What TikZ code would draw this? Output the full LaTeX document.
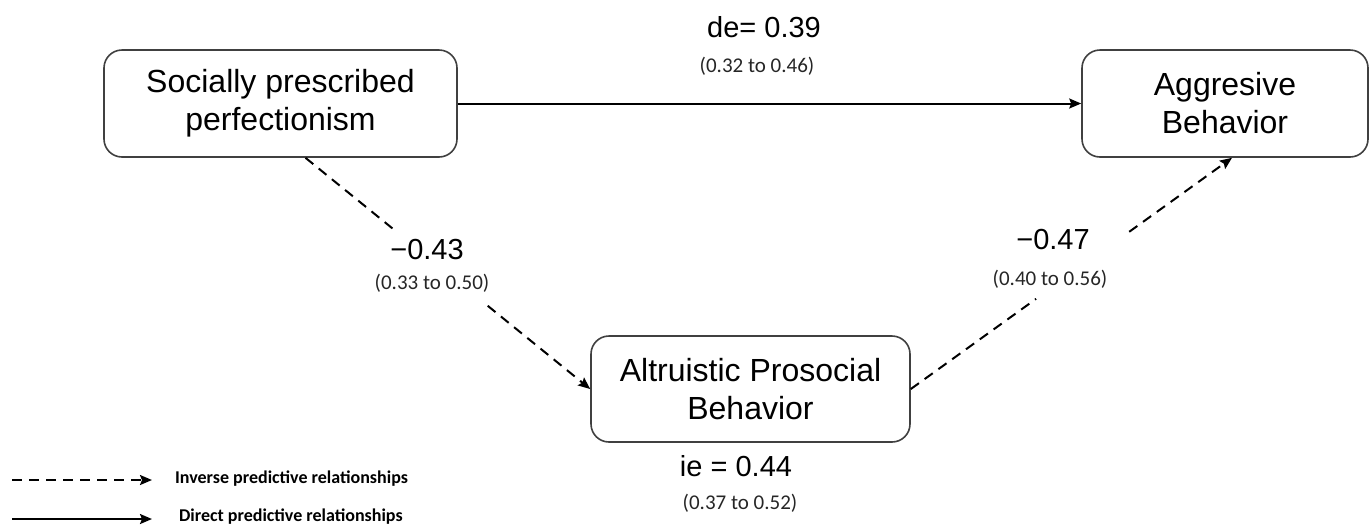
\documentclass[tikz,border=0pt]{standalone}
\usepackage{fontspec}
\setmainfont{Liberation Sans}
\newfontfamily\cifont{Carlito}
\usetikzlibrary{shapes,arrows.meta,calc}
\tikzstyle{block} = [rectangle, draw=black!75, line width=0.8pt, text centered, align=center, rounded corners=9pt,
    font=\fontsize{16}{19}\selectfont]
\tikzstyle{line} = [draw, line width=1pt, -{Stealth[length=6pt,width=5pt,inset=1pt]}]
\tikzstyle{dline} = [line, dash pattern=on 5pt off 3.5pt]
\tikzstyle{coef} = [font=\fontsize{14.5}{17}\selectfont]
\tikzstyle{ci} = [font=\cifont\fontsize{10.5}{12}\selectfont, text=black!85]
\tikzstyle{legtext} = [anchor=west, font=\cifont\bfseries\fontsize{9}{11}\selectfont]

\begin{document}
\begin{tikzpicture}[x=0.5pt,y=-0.5pt]
      \useasboundingbox (0,0) rectangle (1369,527);
      \node [block, minimum width=176.5pt, minimum height=53.5pt] (spp) at (280.5,103.5) {Socially prescribed\\perfectionism};
      \node [block, minimum width=143pt, minimum height=53.5pt] (agg) at (1225,103.5) {Aggresive\\Behavior};
      \node [block, minimum width=159.5pt, minimum height=53pt] (apb) at (750.5,389) {Altruistic Prosocial\\Behavior};

      \node [coef] (de) at (764,27) {de= 0.39};
      \node [ci] (deci) at (757,66) {(0.32 to 0.46)};
      \node [coef] (a) at (427,250) {−0.43};
      \node [ci] (aci) at (432,283) {(0.33 to 0.50)};
      \node [coef] (b) at (1053,240) {−0.47};
      \node [ci] (bci) at (1050,279) {(0.40 to 0.56)};
      \node [coef] (ie) at (736,466) {ie = 0.44};
      \node [ci] (ieci) at (740,503) {(0.37 to 0.52)};

      \coordinate (s1) at ($(spp.south)+(25,0)$);
      \coordinate (e1) at (apb.west);
      \coordinate (s2) at (apb.east);
      \coordinate (e2) at ($(agg.south)+(7,0)$);

      \path [line] (spp) -- (agg);
      \path [dline, -] (s1) -- ($(s1)!0.31!(e1)$);
      \path [dline] ($(s1)!0.64!(e1)$) -- (e1);
      \path [dline, -] (s2) -- ($(s2)!0.39!(e2)$);
      \path [dline] ($(s2)!0.68!(e2)$) -- (e2);

      % legend
      \coordinate (l1a) at (12,480);
      \coordinate (l1b) at (152,480);
      \coordinate (l2a) at (12,519);
      \coordinate (l2b) at (152,519);
      \path [dline] (l1a) -- (l1b);
      \path [line] (l2a) -- (l2b);
      \node [legtext] (inv) at (168,479) {Inverse predictive relationships};
      \node [legtext] (dir) at (172,517) {Direct predictive relationships};
\end{tikzpicture}
\end{document}
